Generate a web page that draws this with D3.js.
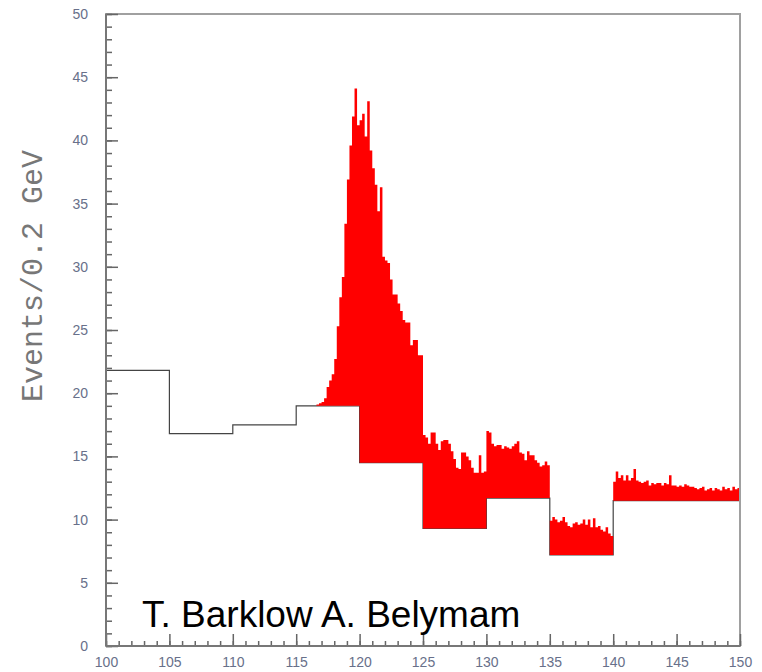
<!DOCTYPE html>
<html>
<head>
<meta charset="utf-8">
<script src="https://cdn.jsdelivr.net/npm/d3@7"></script>
<style>
  html, body { margin: 0; padding: 0; background: #fff; }
  svg { display: block; }
</style>
</head>
<body>
<svg id="chart" width="762" height="672"></svg>
<script>
// Background histogram: 5 GeV bins
const bgEdges = [100, 105, 110, 115, 120, 125, 130, 135, 140, 145, 150];
const background = [21.8, 16.8, 17.5, 19.0, 14.5, 9.3, 11.7, 7.2, 11.5, 11.5];

// Signal histogram: 0.2 GeV bins from 115 GeV to 150 GeV, stacked on the background
const signalStart = 115;
const signalBinWidth = 0.2;
const signal = [
  // 115 - 120
  0, 0, 0, 0, 0, 0, 0, 0, 0.1, 0.2, 0.3, 0.6, 1.5, 2.0, 2.5, 3.7, 6.3, 8.6, 10.2, 14.4, 17.9, 20.6, 22.9, 25.1, 22.2,
  // 120 - 125
  27.1, 27.6, 25.8, 28.6, 24.7, 23.3, 22.0, 19.9, 21.8, 16.3, 16.0, 15.8, 14.5, 13.3, 13.3, 12.6, 12.0, 11.3, 11.1, 11.1, 9.3, 9.7, 9.7, 8.5, 8.5,
  // 125 - 130
  7.4, 7.2, 6.7, 7.6, 7.6, 6.7, 6.2, 6.9, 7.0, 7.0, 6.7, 6.1, 5.5, 4.8, 4.7, 6.0, 6.0, 5.7, 5.4, 4.8, 4.4, 4.4, 5.8, 4.4, 4.5,
  // 130 - 135
  5.3, 5.2, 4.3, 4.1, 4.2, 4.2, 3.9, 4.1, 4.0, 3.9, 4.1, 4.3, 4.5, 3.6, 3.5, 3.0, 3.7, 3.4, 3.4, 3.0, 2.8, 2.5, 2.6, 2.9, 2.6,
  // 135 - 140
  2.7, 3.0, 2.8, 2.6, 2.7, 3.0, 2.6, 2.3, 2.2, 2.5, 2.6, 2.4, 2.5, 2.8, 2.4, 2.8, 2.2, 2.9, 2.2, 2.3, 2.0, 1.85, 2.2, 1.7, 1.5,
  // 140 - 145
  1.5, 2.3, 1.8, 2.0, 1.6, 2.0, 1.6, 1.8, 2.5, 1.6, 1.5, 1.4, 1.5, 1.6, 1.2, 1.4, 1.3, 1.4, 1.4, 1.2, 1.4, 1.3, 2.0, 1.2, 1.2,
  // 145 - 150
  1.1, 1.2, 1.1, 1.3, 1.2, 1.1, 1.1, 1.0, 0.9, 1.0, 1.1, 0.8, 0.9, 1.0, 0.8, 1.0, 0.9, 0.8, 1.1, 0.9, 1.0, 0.8, 1.1, 0.9, 1.0
];

const xMajorTicks = [100, 105, 110, 115, 120, 125, 130, 135, 140, 145, 150];
const yMajorTicks = [0, 5, 10, 15, 20, 25, 30, 35, 40, 45, 50];
const yTitle = "Events/0.2 GeV";
const credit = "T. Barklow A. Belymam";

const svg = d3.select("#chart");
const plot = { left: 106, right: 740, top: 14, bottom: 646 };

const x = d3.scaleLinear().domain([100, 150]).range([plot.left, plot.right]);
const y = d3.scaleLinear().domain([0, 50]).range([plot.bottom, plot.top]);

function bgAt(v) {
  const i = Math.min(background.length - 1, Math.floor((v - 100) / 5 + 1e-9));
  return background[i];
}

// Background step line
const bgPoints = background.map((v, i) => [bgEdges[i], v]);
bgPoints.push([150, background[background.length - 1]]);
svg.append("path")
  .attr("d", d3.line().x(d => x(d[0])).y(d => y(d[1])).curve(d3.curveStepAfter)(bgPoints))
  .attr("fill", "none")
  .attr("stroke", "#444")
  .attr("stroke-width", 1.2);

// Signal stacked on top of the background, filled red
const sigPoints = signal.map((s, i) => {
  const lo = signalStart + i * signalBinWidth;
  const b = bgAt(lo);
  return { x: lo, y0: b, y1: b + s };
});
const last = sigPoints[sigPoints.length - 1];
sigPoints.push({ x: 150, y0: last.y0, y1: last.y1 });
svg.append("path")
  .attr("d", d3.area()
    .x(d => x(d.x))
    .y0(d => y(d.y0))
    .y1(d => y(d.y1))
    .curve(d3.curveStepAfter)(sigPoints.filter(d => d.y1 > d.y0 || d.x >= 116.6)))
  .attr("fill", "#ff0000")
  .attr("stroke", "none");

// Frame
svg.append("rect")
  .attr("x", plot.left).attr("y", plot.top)
  .attr("width", plot.right - plot.left).attr("height", plot.bottom - plot.top)
  .attr("fill", "none").attr("stroke", "#a0a0a0").attr("stroke-width", 2);

const labelColor = "#68708a";
const tickColor = "#666";
const tickFont = "'Liberation Sans', Arial, sans-serif";

// Y axis: major and minor ticks pointing inward
const yMinor = svg.append("g").attr("transform", `translate(${plot.left},0)`)
  .call(d3.axisLeft(y).tickValues(d3.range(0, 51, 1)).tickSize(-6).tickFormat(""));
const yMajor = svg.append("g").attr("transform", `translate(${plot.left},0)`)
  .call(d3.axisLeft(y).tickValues(yMajorTicks).tickSize(-12).tickPadding(18).tickFormat(d3.format("d")));

// X axis: major and minor ticks pointing inward
const xMinor = svg.append("g").attr("transform", `translate(0,${plot.bottom})`)
  .call(d3.axisBottom(x).tickValues(d3.range(100, 151, 1)).tickSize(-5).tickFormat(""));
const xMajor = svg.append("g").attr("transform", `translate(0,${plot.bottom})`)
  .call(d3.axisBottom(x).tickValues(xMajorTicks).tickSize(-12).tickPadding(11).tickFormat(d3.format("d")));

[yMinor, yMajor, xMinor, xMajor].forEach(g => {
  g.select(".domain").remove();
  g.selectAll(".tick line").attr("stroke", tickColor).attr("stroke-width", 1.5);
  g.selectAll(".tick text")
    .attr("fill", labelColor)
    .style("font-family", tickFont)
    .style("font-size", "14px");
});

// Darker left and bottom axis lines
svg.append("line")
  .attr("x1", plot.left).attr("x2", plot.left)
  .attr("y1", plot.top).attr("y2", plot.bottom)
  .attr("stroke", "#777").attr("stroke-width", 2);
svg.append("line")
  .attr("x1", plot.left).attr("x2", plot.right)
  .attr("y1", plot.bottom).attr("y2", plot.bottom)
  .attr("stroke", "#777").attr("stroke-width", 2);

// Y axis title
svg.append("text")
  .attr("transform", `translate(42,${276}) rotate(-90)`)
  .attr("text-anchor", "middle")
  .attr("fill", "#777")
  .style("font-family", "'Liberation Mono', 'Courier New', monospace")
  .style("font-size", "30px")
  .text(yTitle);

// Credit line
svg.append("text")
  .attr("x", 142).attr("y", 627)
  .attr("fill", "#000")
  .style("font-family", "'Liberation Sans', Arial, sans-serif")
  .style("font-size", "37px")
  .text(credit);
</script>
</body>
</html>
